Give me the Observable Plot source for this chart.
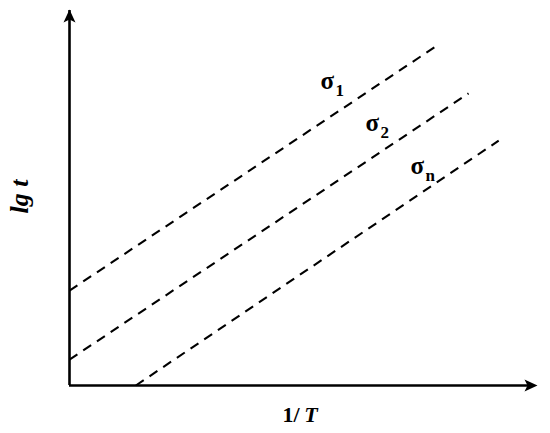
<!DOCTYPE html>
<html>
<head>
<meta charset="utf-8">
<script src="https://cdn.jsdelivr.net/npm/d3@7"></script>
<script src="https://cdn.jsdelivr.net/npm/@observablehq/plot@0.6"></script>
<style>
  html, body { margin: 0; padding: 0; background: #fff; }
  #chart svg { display: block; }
</style>
</head>
<body>
<div id="chart"></div>
<script>
// Series (schematic isostress lines: lg t vs 1/T)
const series = ["σ1", "σ2", "σn"];
const startX = [0, 0, 14.3];
const startY = [25.3, 6.9, 0];
const endX = [78.9, 86.0, 92.5];
const endY = [90.4, 77.9, 65.3];

// Labels
const labelMain = ["σ", "σ", "σ"];
const labelSub = ["1", "2", "n"];
const labelX = [54.1, 63.8, 73.5];
const labelY = [79.2, 68.0, 56.5];

// Axis titles
const xTitleParts = ["1/", "T"];
const yTitle = "lg t";

const lines = series.map((s, i) => ({s, x1: startX[i], y1: startY[i], x2: endX[i], y2: endY[i]}));
const labels = series.map((s, i) => ({main: labelMain[i], sub: labelSub[i], x: labelX[i], y: labelY[i]}));

const arrowHead = {
  draw(context) {
    const W = 6, L = 13, N = 3;
    context.moveTo(0, 0);
    context.lineTo(W, L);
    context.lineTo(0, L - N);
    context.lineTo(-W, L);
    context.closePath();
  }
};

const font = "Liberation Serif";

const chart = Plot.plot({
  width: 550,
  height: 433,
  marginLeft: 69,
  marginRight: 17,
  marginTop: 10,
  marginBottom: 48,
  x: {domain: [0, 100], axis: null},
  y: {domain: [0, 100], axis: null},
  style: {fontFamily: font, background: "#fff", color: "#000"},
  marks: [
    Plot.link(lines, {x1: "x1", y1: "y1", x2: "x2", y2: "y2", stroke: "#000", strokeWidth: 2.1, strokeDasharray: "9.5,7"}),
    Plot.ruleX([0], {y1: 0, y2: 100, stroke: "#000", strokeWidth: 2.6}),
    Plot.ruleY([0], {x1: 0, x2: 100, stroke: "#000", strokeWidth: 2.6}),
    Plot.dot([{x: 0, y: 100}], {x: "x", y: "y", symbol: arrowHead, fill: "#000", stroke: "none", dy: -1}),
    Plot.dot([{x: 100, y: 0}], {x: "x", y: "y", symbol: arrowHead, fill: "#000", stroke: "none", rotate: 90, dx: 4}),
    Plot.text(labels, {x: "x", y: "y", text: "main", textAnchor: "start", lineAnchor: "bottom", fontFamily: font, fontSize: 25, fontWeight: "bold", fill: "#000"}),
    Plot.text(labels, {x: "x", y: "y", text: "sub", textAnchor: "start", lineAnchor: "bottom", fontFamily: font, fontSize: 17, fontWeight: "bold", fill: "#000", dx: 15, dy: 7}),
    Plot.text([{t: xTitleParts[0], x: 49.6, y: -9.6}], {x: "x", y: "y", text: "t", textAnchor: "end", lineAnchor: "bottom", fontFamily: font, fontSize: 22, fontWeight: "bold", fill: "#000"}),
    Plot.text([{t: xTitleParts[1], x: 50.6, y: -9.6}], {x: "x", y: "y", text: "t", textAnchor: "start", lineAnchor: "bottom", fontFamily: font, fontSize: 22, fontWeight: "bold", fontStyle: "italic", fill: "#000"}),
    Plot.text([{t: yTitle, x: -9.05, y: 50.4}], {x: "x", y: "y", text: "t", rotate: -90, textAnchor: "middle", lineAnchor: "bottom", fontFamily: font, fontSize: 26, fontWeight: "bold", fontStyle: "italic", fill: "#000"})
  ]
});

document.getElementById("chart").appendChild(chart);
</script>
</body>
</html>
